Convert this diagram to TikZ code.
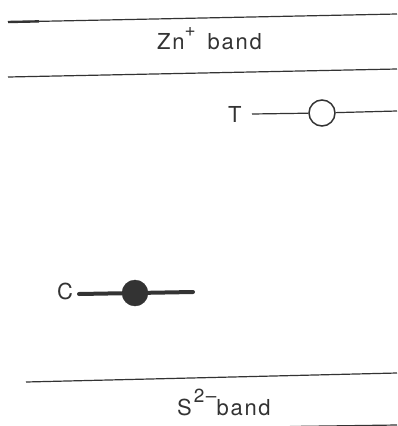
\documentclass[tikz,border=0pt]{standalone}
\usepackage{fontspec}
\setmainfont{TeX Gyre Heros}[LetterSpace=8]
\usepackage{xcolor}
\usetikzlibrary{positioning,calc}

\definecolor{ink}{HTML}{333333}
\newcommand{\upscript}[1]{\raisebox{0.55em}{\fontsize{19}{19}\selectfont #1}}

\begin{document}
\begin{tikzpicture}[x=1pt,y=-1pt,
        bandline/.style={draw=ink,line width=1.2pt},
        lbl/.style={text=ink,inner sep=0pt,font=\fontsize{22}{23}\selectfont},
        level/.style={draw=ink,line width=1.2pt},
        trap/.style={draw=ink,circle,line width=1.5pt,fill=white,minimum size=26pt,inner sep=0pt},
        centre/.style={draw=ink,circle,fill=ink,minimum size=26pt,inner sep=0pt}]
        \useasboundingbox (0,0) rectangle (397,426);

        % Zn+ band edges
        \coordinate (zt1) at (8,22);
        \coordinate (zt2) at (397,14);
        \coordinate (zb1) at (8,77);
        \coordinate (zb2) at (397,69);
        \draw[bandline] (zt1) -- (zt2);
        \draw[bandline,line width=2.4pt] (zt1) -- ($(zt1)!0.08!(zt2)$);
        \draw[bandline] (zb1) -- (zb2);
        \node[lbl,anchor=base west] (zn) at (157,49) {Zn\upscript{+}\hspace{12pt}band};

        % T level
        \node[lbl,anchor=base west] (T) at (228,122) {T};
        \coordinate (t1) at (252,114);
        \coordinate (t2) at (397,111);
        \node[trap] (tc) at (322,113) {};
        \draw[level] (t1) -- (tc);
        \draw[level] (tc) -- (t2);

        % C level
        \node[lbl,anchor=base west] (C) at (57,299) {C};
        \coordinate (c1) at (79,294);
        \coordinate (c2) at (193,292);
        \draw[level,line width=4pt,line cap=round] (c1) -- (c2);
        \node[centre] (cc) at (135,293) {};

        % S2- band edges
        \coordinate (st1) at (26,382);
        \coordinate (st2) at (397,373);
        \coordinate (sb1) at (290,426.5);
        \coordinate (sb2) at (397,425);
        \draw[bandline] (st1) -- (st2);
        \draw[bandline] (sb1) -- (sb2);
        \node[lbl,anchor=base west] (s) at (177,415) {S\hspace{2pt}\upscript{2--}band};
    \end{tikzpicture}
\end{document}
